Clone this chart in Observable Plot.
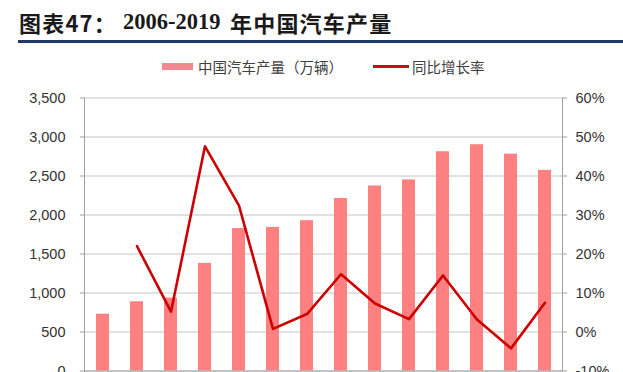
<!DOCTYPE html>
<html><head><meta charset="utf-8">
<script src="https://cdn.jsdelivr.net/npm/d3@7"></script>
<script src="https://cdn.jsdelivr.net/npm/@observablehq/plot@0.6"></script>
<style>
body{margin:0;background:#fff;width:623px;height:372px;overflow:hidden;}
#wrap{position:relative;width:623px;height:372px;}
.t{position:absolute;top:7px;font-family:"Noto Sans CJK SC",sans-serif;font-weight:700;font-size:22px;color:#1a1a1a;white-space:pre;line-height:30px;letter-spacing:1.2px;}
.t.num{font-family:"Liberation Serif",serif;font-size:22.5px;letter-spacing:0;top:7px;}
#rule{position:absolute;left:18px;right:0;top:40px;height:3px;background:#1f3a66;}
.sw{position:absolute;}
.lg{position:absolute;top:57px;font-family:"Noto Sans CJK SC",sans-serif;font-size:14.5px;color:#404040;line-height:20px;}
#chart{position:absolute;top:80px;left:0;}
</style></head>
<body>
<div id="wrap">
  <div class="t" style="left:19px;">图表47：</div>
  <div class="t num" style="left:123px;">2006-2019</div>
  <div class="t" style="left:230px;">年中国汽车产量</div>
  <div id="rule"></div>
  <div class="sw" style="left:162px;top:63px;width:31px;height:7px;background:#f08a8f;"></div>
  <div class="lg" style="left:198px;">中国汽车产量（万辆）</div>
  <div class="sw" style="left:373px;top:65px;width:36px;height:3px;background:#b8141b;"></div>
  <div class="lg" style="left:412px;">同比增长率</div>
  <div id="chart"></div>
</div>
<script>
const years = ["2006","2007","2008","2009","2010","2011","2012","2013","2014","2015","2016","2017","2018","2019"];
const production = [728, 888, 935, 1379, 1826, 1841, 1927, 2211, 2372, 2450, 2811, 2901, 2780, 2572];
const growth = [null, 22.0, 5.2, 47.6, 32.4, 0.8, 4.6, 14.8, 7.3, 3.3, 14.5, 3.2, -4.2, 7.5];
const leftTicks = [0, 500, 1000, 1500, 2000, 2500, 3000, 3500];
const rightTicks = [-10, 0, 10, 20, 30, 40, 50, 60];

// right axis (-10%..60%) shares the left scale (0..3500)
const toLeft = p => (p + 10) * 50;
const data = years.map((y, i) => ({year: y, prod: production[i], g: growth[i]}));

const chart = Plot.plot({
  width: 623, height: 320,
  marginTop: 17.5, marginBottom: 29.5, marginLeft: 84, marginRight: 61,
  x: {type: "band", domain: years, paddingInner: 0.62, paddingOuter: 0.31, axis: null},
  y: {domain: [0, 3500]},
  style: {fontFamily: "'Liberation Sans', Arial, sans-serif", fontSize: "14.5px", color: "#333", background: "#fff"},
  marks: [
    Plot.gridY(leftTicks, {stroke: "#c4c4c4", strokeOpacity: 1}),
    Plot.barY(data, {x: "year", y: "prod", fill: "#ff8080"}),
    Plot.ruleY([0], {stroke: "#a0a0a0"}),
    Plot.frame({anchor: "left", stroke: "#a0a0a0"}),
    Plot.frame({anchor: "right", stroke: "#a0a0a0"}),
    Plot.axisY(leftTicks, {anchor: "left", tickSize: 4, tickPadding: 15, stroke: "#a0a0a0", fill: "#333", tickFormat: d3.format(","), label: null}),
    Plot.axisY(rightTicks.map(toLeft), {anchor: "right", tickSize: 4, tickPadding: 9, stroke: "#a0a0a0", fill: "#333", tickFormat: d => `${Math.round(d / 50 - 10)}%`, label: null}),
    Plot.lineY(data.filter(d => d.g != null), {x: "year", y: d => toLeft(d.g), stroke: "#cc0000", strokeWidth: 2.6})
  ]
});
document.getElementById("chart").appendChild(chart);
</script>
</body></html>
